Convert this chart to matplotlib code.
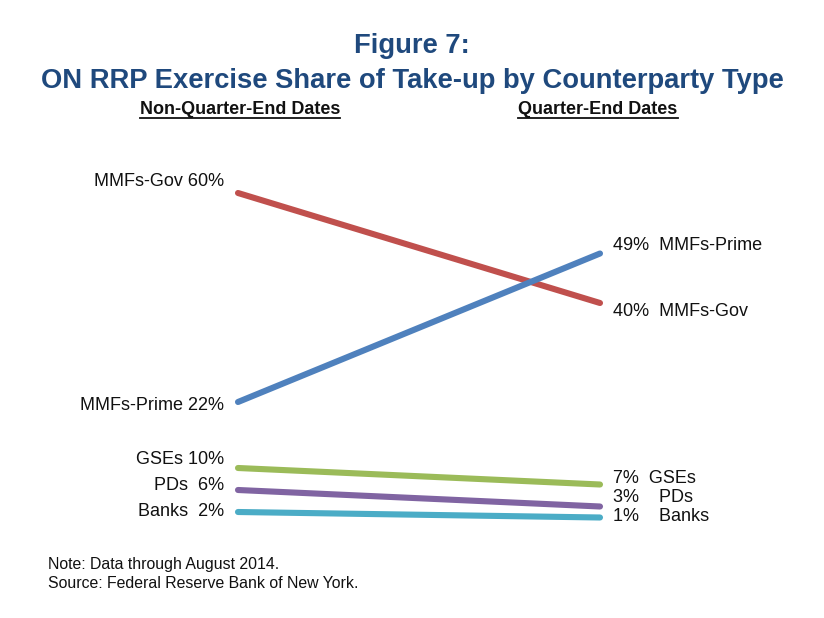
import matplotlib
matplotlib.use("Agg")
import matplotlib.pyplot as plt
from matplotlib.lines import Line2D

plt.rcParams['font.family'] = ['Liberation Sans', 'DejaVu Sans']

# ---- data ----
periods = ["Non-Quarter-End Dates", "Quarter-End Dates"]
series = ["MMFs-Gov", "MMFs-Prime", "GSEs", "PDs", "Banks"]
non_qe = [60, 22, 10, 6, 2]
qe = [40, 49, 7, 3, 1]
colors = ["#C0504D", "#4F81BD", "#9BBB59", "#8064A2", "#4BACC6"]
left_labels = ["MMFs-Gov 60%", "MMFs-Prime 22%", "GSEs 10%", "PDs  6%", "Banks  2%"]
right_labels = ["40%  MMFs-Gov", "49%  MMFs-Prime", "7%  GSEs", "3%    PDs", "1%    Banks"]
title_lines = ["Figure 7:", "ON RRP Exercise Share of Take-up by Counterparty Type"]
notes = ["Note: Data through August 2014.", "Source: Federal Reserve Bank of New York."]

# label vertical offsets in pixels (positive = up)
left_dy = [12, -3, 9, 4, 1]
right_dy = [-8, 8, 6, 9, 1]

W, H = 824, 618
fig = plt.figure(figsize=(W / 100, H / 100), dpi=100)
x0, x1 = 238, 600
ytop, ybot = 193, 523
ax = fig.add_axes([x0 / W, (H - ybot) / H, (x1 - x0) / W, (ybot - ytop) / H])
ax.set_xlim(0, 1)
ax.set_ylim(0, 60)
ax.axis('off')

for i, name in enumerate(series):
    ax.plot([0, 1], [non_qe[i], qe[i]], color=colors[i], lw=4.4,
            solid_capstyle='round', clip_on=False)
    ax.annotate(left_labels[i], xy=(0, non_qe[i]), xytext=(-10, left_dy[i] * 0.72),
                textcoords='offset points', ha='right', va='center',
                fontsize=13, color='#111111')
    ax.annotate(right_labels[i], xy=(1, qe[i]), xytext=(9.5, right_dy[i] * 0.72),
                textcoords='offset points', ha='left', va='center',
                fontsize=13, color='#111111')

title_color = "#1F497D"
fig.text(0.5, 1 - 46 / H, title_lines[0], ha='center', va='center',
         fontsize=19.7, fontweight='bold', color=title_color)
fig.text(0.5, 1 - 81 / H, title_lines[1], ha='center', va='center',
         fontsize=19.7, fontweight='bold', color=title_color)

hdr = []
for px, txt in zip([240, 598], periods):
    t = fig.text(px / W, 1 - 109 / H, txt, ha='center', va='center',
                 fontsize=13, fontweight='bold', color='#111111')
    hdr.append(t)

fig.text(48 / W, 1 - 564 / H, notes[0], ha='left', va='center', fontsize=11.4, color='#111111')
fig.text(48 / W, 1 - 583 / H, notes[1], ha='left', va='center', fontsize=11.4, color='#111111')

fig.canvas.draw()
r = fig.canvas.get_renderer()
for t in hdr:
    bb = t.get_window_extent(renderer=r)
    yline = bb.y0 - 0.5
    fig.add_artist(Line2D([bb.x0 / W, bb.x1 / W], [yline / H, yline / H],
                          transform=fig.transFigure, color='#111111', lw=1.3))

fig.savefig("out.png", dpi=100, facecolor='white')
